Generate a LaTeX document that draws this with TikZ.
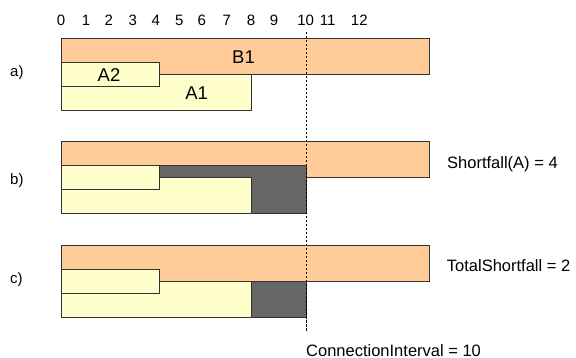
\documentclass[tikz,border=0pt]{standalone}
\usepackage{fontspec}
\setmainfont{Liberation Sans}

\definecolor{peach}{RGB}{255,204,153}
\definecolor{paleyellow}{RGB}{255,255,204}
\definecolor{shortgray}{RGB}{102,102,102}

\tikzstyle{bbar} = [draw=black!80, line width=0.8pt, fill=peach]
\tikzstyle{abar} = [draw=black!80, line width=0.8pt, fill=paleyellow]
\tikzstyle{shortfall} = [draw=black!80, line width=0.8pt, fill=shortgray]
\tikzstyle{tickno} = [anchor=base, inner sep=0pt, font=\fontsize{15}{18}\selectfont]
\tikzstyle{barlabel} = [anchor=base, inner sep=0pt, font=\fontsize{18.5}{22}\selectfont]
\tikzstyle{caselabel} = [anchor=west, inner sep=0pt, font=\fontsize{15}{18}\selectfont]
\tikzstyle{result} = [anchor=base west, inner sep=0pt, font=\fontsize{16.5}{20}\selectfont]
\tikzstyle{interval} = [line width=0.6pt, dash pattern=on 2.5pt off 1.5pt]

\begin{document}
\begin{tikzpicture}[x=1pt, y=-1pt]

\useasboundingbox (0,0) rectangle (576,358);

% time scale
\node (t0) [tickno] at (61,26) {0};
\node (t1) [tickno] at (86,26) {1};
\node (t2) [tickno] at (108.7,26) {2};
\node (t3) [tickno] at (132.7,26) {3};
\node (t4) [tickno] at (155.7,26) {4};
\node (t5) [tickno] at (179.3,26) {5};
\node (t6) [tickno] at (201.7,26) {6};
\node (t7) [tickno] at (226.7,26) {7};
\node (t8) [tickno] at (251,26) {8};
\node (t9) [tickno] at (274,26) {9};
\node (t10) [tickno] at (305.7,26) {10};
\node (t11) [tickno] at (327.7,26) {11};
\node (t12) [tickno] at (359.3,26) {12};

% a)
\node (casea) [caselabel] at (10,73) {a)};
\draw [bbar] (61,38) rectangle (429,74);
\draw [abar] (61,74) rectangle (251,110);
\draw [abar] (61,62) rectangle (159,86);
\node (b1) [barlabel] at (243.5,63.3) {B1};
\node (a2) [barlabel] at (109,81.7) {A2};
\node (a1) [barlabel] at (196.7,100) {A1};

% b)
\node (caseb) [caselabel] at (10,181) {b)};
\draw [bbar] (61,141.5) rectangle (429,177.5);
\draw [shortfall] (159,165.5) rectangle (306,213.5);
\draw [abar] (61,177.5) rectangle (251,213.5);
\draw [abar] (61,165.5) rectangle (159,189.5);
\node (shorta) [result] at (447,168.3) {Shortfall(A) = 4};

% c)
\node (casec) [caselabel] at (10,280) {c)};
\draw [bbar] (61,245) rectangle (429,281);
\draw [shortfall] (251,281) rectangle (306,317);
\draw [abar] (61,281) rectangle (251,317);
\draw [abar] (61,269) rectangle (159,293);
\node (total) [result] at (446.7,271.7) {TotalShortfall = 2};

% connection interval
\coordinate (citop) at (306,32);
\coordinate (cibot) at (306,332);
\draw [interval] (citop) -- (cibot);
\node (ci) [result] at (306,356) {ConnectionInterval = 10};

\end{tikzpicture}
\end{document}
